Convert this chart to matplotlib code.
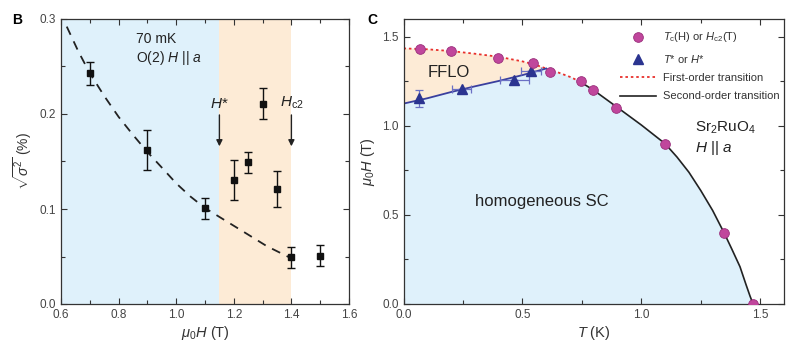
import matplotlib
matplotlib.use('Agg')
import matplotlib.pyplot as plt
from matplotlib.ticker import MultipleLocator, FormatStrFormatter
import numpy as np

plt.rcParams['font.family'] = ['Liberation Sans', 'DejaVu Sans']
plt.rcParams['mathtext.fontset'] = 'custom'
plt.rcParams['mathtext.rm'] = 'Liberation Sans'
plt.rcParams['mathtext.it'] = 'Liberation Sans:italic'
plt.rcParams['mathtext.bf'] = 'Liberation Sans:bold'

fs = 8.5
blue_bg = '#dff1fb'
orange_bg = '#fdebd6'
txt = '#333333'

# ---------------- panel B data ----------------
field = [0.7, 0.9, 1.1, 1.2, 1.25, 1.3, 1.35, 1.4, 1.5]
sigma = [0.243, 0.162, 0.101, 0.131, 0.149, 0.211, 0.121, 0.049, 0.051]
sigma_err = [0.012, 0.021, 0.011, 0.021, 0.011, 0.016, 0.019, 0.011, 0.011]

fit_H = [0.62, 0.66, 0.70, 0.75, 0.80, 0.85, 0.90, 0.955, 1.0, 1.05, 1.1, 1.175, 1.25, 1.314, 1.4]
fit_s = [0.292, 0.266, 0.243, 0.219, 0.197, 0.178, 0.160, 0.142, 0.127, 0.113, 0.101, 0.087, 0.073, 0.061, 0.048]

H_star = 1.15
H_c2 = 1.4

# ---------------- panel C data ----------------
hc2_T = [0.069, 0.198, 0.396, 0.546, 0.615, 0.745, 0.795, 0.895, 1.100, 1.349, 1.470]
hc2_H = [1.432, 1.422, 1.383, 1.351, 1.303, 1.252, 1.202, 1.103, 0.900, 0.397, 0.0]

tstar_T = [0.065, 0.245, 0.466, 0.535]
tstar_H = [1.155, 1.205, 1.258, 1.308]
tstar_Terr = [0.0, 0.04, 0.06, 0.042]
tstar_Herr = [0.048, 0.0, 0.0, 0.0]

red_T = [0.0, 0.1, 0.2, 0.3, 0.4, 0.5, 0.55, 0.6, 0.65, 0.7, 0.74]
red_H = [1.435, 1.43, 1.42, 1.405, 1.388, 1.362, 1.345, 1.322, 1.300, 1.275, 1.25]

black_T = [0.74, 0.8, 0.9, 1.0, 1.1, 1.15, 1.2, 1.25, 1.3, 1.349, 1.38, 1.415, 1.44, 1.457, 1.470]
black_H = [1.25, 1.20, 1.103, 1.005, 0.90, 0.825, 0.74, 0.637, 0.525, 0.397, 0.31, 0.209, 0.11, 0.045, 0.0]

blue_T = [0.0, 0.1, 0.2, 0.3, 0.4, 0.5, 0.6]
blue_H = [1.125, 1.155, 1.19, 1.222, 1.252, 1.285, 1.322]


def style_axes(ax):
    ax.tick_params(which='both', direction='in', top=True, right=True,
                   labelsize=fs, width=0.8, colors=txt, labelcolor='#444444')
    ax.tick_params(which='major', length=4)
    ax.tick_params(which='minor', length=3)
    for sp in ax.spines.values():
        sp.set_linewidth(0.9)
        sp.set_color(txt)


fig = plt.figure(figsize=(7.94, 3.5), dpi=100)

############################################################################################
# Panel B
ax = fig.add_axes([61/794, 46/350, 288/794, 285/350])
ax.axvspan(0.6, H_star, color=blue_bg, lw=0, zorder=0)
ax.axvspan(H_star, H_c2, color=orange_bg, lw=0, zorder=0)
ax.plot(fit_H, fit_s, color='#222222', lw=1.3, dashes=(5, 4), zorder=2)
ax.errorbar(field, sigma, yerr=sigma_err, fmt='s', color='#111111', ms=5,
            capsize=3, elinewidth=1.0, capthick=1.0, zorder=3)

for xa, lab in [(H_star, r'$H$*'), (H_c2, r'$H_{\rm c2}$')]:
    ax.annotate('', xy=(xa, 0.166), xytext=(xa, 0.199),
                arrowprops=dict(arrowstyle='-|>', color='#222222', lw=1.0,
                                mutation_scale=9, shrinkA=0, shrinkB=0))
    ax.text(xa, 0.203, lab, ha='center', va='bottom', fontsize=11, color='#222222')

ax.text(0.86, 0.279, '70 mK', fontsize=10, ha='left', va='center', color='#222222')
ax.text(0.86, 0.259, r'O(2) $H$ || $a$', fontsize=10, ha='left', va='center', color='#222222')

ax.set_xlim(0.6, 1.6)
ax.set_ylim(0.0, 0.3)
ax.xaxis.set_major_locator(MultipleLocator(0.2))
ax.xaxis.set_minor_locator(MultipleLocator(0.1))
ax.yaxis.set_major_locator(MultipleLocator(0.1))
ax.yaxis.set_minor_locator(MultipleLocator(0.05))
ax.xaxis.set_major_formatter(FormatStrFormatter('%.1f'))
ax.yaxis.set_major_formatter(FormatStrFormatter('%.1f'))
style_axes(ax)
ax.set_xlabel(r'$\mu_0H$ (T)', fontsize=10.5, color=txt, labelpad=2)
ax.set_ylabel(r'$\sqrt{\sigma^2}$ (%)', fontsize=10, color=txt, labelpad=4)
fig.text(12/794, 1 - 20/350, 'B', fontsize=10, fontweight='bold', va='center', ha='left')

############################################################################################
# Panel C
ax2 = fig.add_axes([403.5/794, 46/350, 380.5/794, 285/350])

fill_T = blue_T + red_T[8:] + black_T + [0.0]
fill_H = blue_H + red_H[8:] + black_H + [0.0]
ax2.fill(fill_T, fill_H, color=blue_bg, lw=0, zorder=0)
orange_T = red_T[:8] + blue_T[::-1]
orange_H = red_H[:8] + blue_H[::-1]
ax2.fill(orange_T, orange_H, color=orange_bg, lw=0, zorder=0)

ax2.plot(red_T, red_H, color='#e8302c', lw=1.3, dashes=(1.4, 1.6), zorder=2,
         label='First-order transition')
ax2.plot(black_T, black_H, color='#222222', lw=1.2, zorder=2,
         label='Second-order transition')
ax2.plot(blue_T, blue_H, color='#3a3f9e', lw=1.3, zorder=2)

ax2.errorbar(tstar_T, tstar_H, xerr=tstar_Terr, yerr=tstar_Herr, fmt='none',
             ecolor='#6b70c4', elinewidth=0.9, capsize=3, capthick=0.9, zorder=3)
ax2.plot(tstar_T, tstar_H, '^', color='#2b3490', ms=7.5, zorder=4,
         label=r'$T$* or $H$*')
ax2.plot(hc2_T, hc2_H, 'o', color='#c0469c', mec='#9a2f7c', mew=0.6,
         ms=7, zorder=5, label=r'$T_{\rm c}$(H) or $H_{\rm c2}$(T)')

handles, labels = ax2.get_legend_handles_labels()
order = [3, 2, 0, 1]
leg = ax2.legend([handles[i] for i in order], [labels[i] for i in order],
                 loc='upper right', bbox_to_anchor=(1.015, 0.995), frameon=False,
                 fontsize=8, handlelength=3.3, labelspacing=0.75, handletextpad=0.6)
for t in leg.get_texts():
    t.set_color(txt)

ax2.text(0.19, 1.30, 'FFLO', fontsize=12, ha='center', va='center', color='#222222')
ax2.text(0.58, 0.575, 'homogeneous SC', fontsize=12, ha='center', va='center', color='#222222')
ax2.text(1.225, 0.99, r'Sr$_2$RuO$_4$', fontsize=11, ha='left', va='center', color='#222222')
ax2.text(1.225, 0.875, r'$H$ || $a$', fontsize=11, ha='left', va='center', color='#222222')

ax2.set_xlim(0.0, 1.6)
ax2.set_ylim(0.0, 1.6)
ax2.xaxis.set_major_locator(MultipleLocator(0.5))
ax2.xaxis.set_minor_locator(MultipleLocator(0.25))
ax2.yaxis.set_major_locator(MultipleLocator(0.5))
ax2.yaxis.set_minor_locator(MultipleLocator(0.25))
ax2.xaxis.set_major_formatter(FormatStrFormatter('%.1f'))
ax2.yaxis.set_major_formatter(FormatStrFormatter('%.1f'))
style_axes(ax2)
ax2.set_xlabel(r'$T$ (K)', fontsize=10.5, color=txt, labelpad=2)
ax2.set_ylabel(r'$\mu_0H$ (T)', fontsize=10.5, color=txt, labelpad=4)
fig.text(367/794, 1 - 20/350, 'C', fontsize=10, fontweight='bold', va='center', ha='left')

plt.savefig('out.png', dpi=100)
